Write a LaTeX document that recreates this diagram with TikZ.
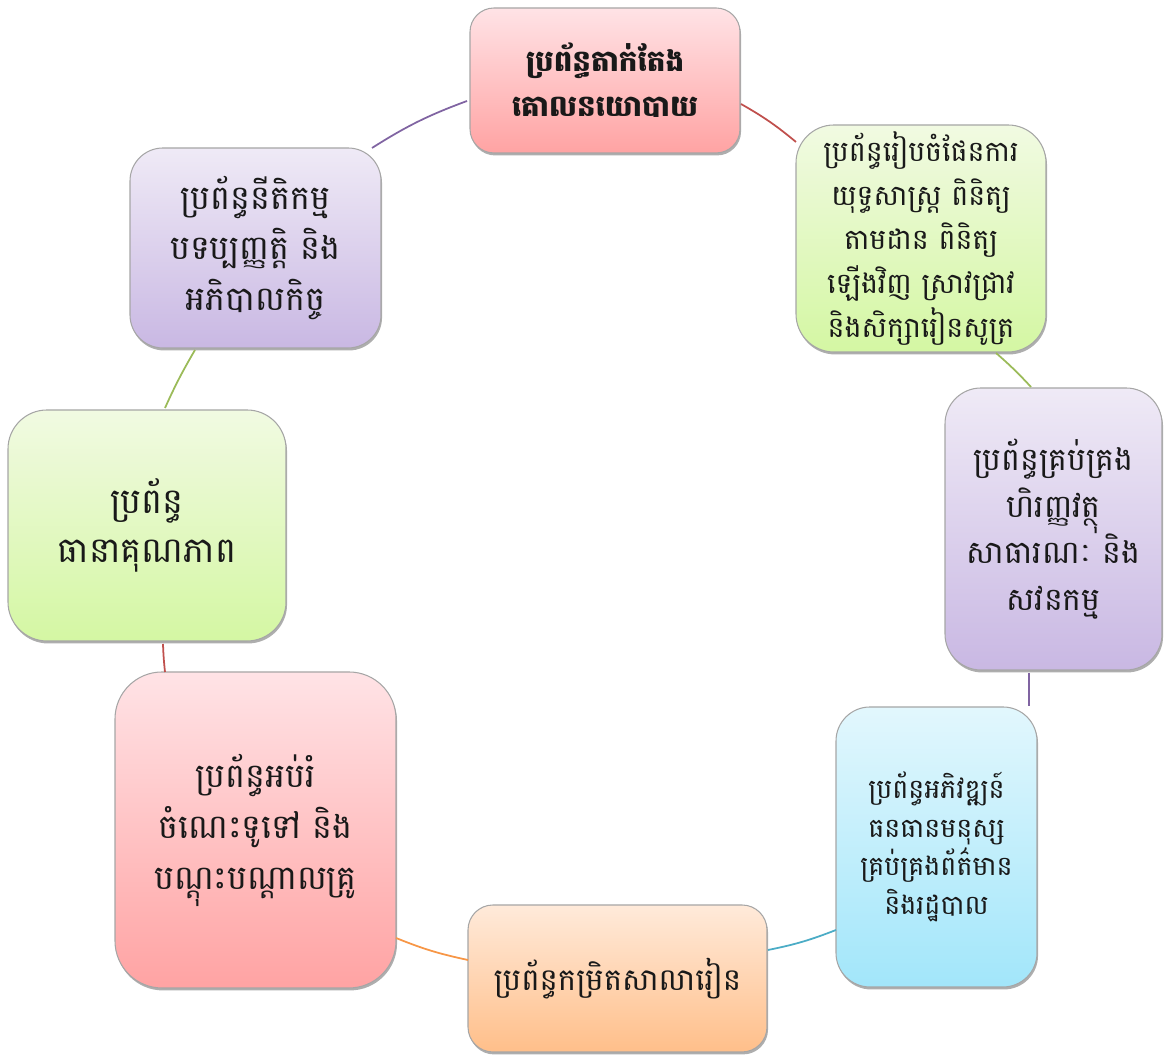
\documentclass[tikz,border=0pt]{standalone}
\usepackage{fontspec}
\newfontfamily\khmer[Script=Khmer]{Battambang}
\usetikzlibrary{shadows}
\definecolor{cRed}{HTML}{C0504D}
\definecolor{cGreen}{HTML}{9BBB59}
\definecolor{cPurple}{HTML}{8064A2}
\definecolor{cBlue}{HTML}{4BACC6}
\definecolor{cOrange}{HTML}{F79646}
\definecolor{redTop}{HTML}{FFE3E6}
\definecolor{redBot}{HTML}{FFA3A3}
\definecolor{greenTop}{HTML}{F1FAE2}
\definecolor{greenBot}{HTML}{D4F7A3}
\definecolor{purpleTop}{HTML}{EFEAF6}
\definecolor{purpleBot}{HTML}{C9B8E3}
\definecolor{blueTop}{HTML}{E2F7FD}
\definecolor{blueBot}{HTML}{A2E6FA}
\definecolor{orangeTop}{HTML}{FFEADA}
\definecolor{orangeBot}{HTML}{FFBF8A}
\tikzset{
  box/.style={draw=black!35, line width=0.6pt, align=center, inner sep=0pt,
    font=\khmer\fontsize{16}{25}\selectfont, text=black!90,
    drop shadow={shadow xshift=0.6pt, shadow yshift=-1.4pt, opacity=0.45, fill=black!70}},
  redbox/.style={box, top color=redTop, bottom color=redBot},
  greenbox/.style={box, top color=greenTop, bottom color=greenBot},
  purplebox/.style={box, top color=purpleTop, bottom color=purpleBot},
  bluebox/.style={box, top color=blueTop, bottom color=blueBot},
  orangebox/.style={box, top color=orangeTop, bottom color=orangeBot},
  conn/.style={line width=1pt}
}
\begin{document}
\begin{tikzpicture}
\useasboundingbox (0,0) rectangle (23.28,21.14);
% boxes
\node[redbox, minimum width=5.4cm, minimum height=2.9cm, rounded corners=0.48cm, font=\khmer\bfseries\fontsize{16.7}{25.5}\selectfont] (n1) at (12.1,19.53)
  {ប្រព័ន្ធតាក់តែង\\គោលនយោបាយ};
\node[greenbox, minimum width=5.0cm, minimum height=4.54cm, rounded corners=0.76cm, font=\khmer\fontsize{16.2}{25}\selectfont] (n2) at (18.42,16.37)
  {ប្រព័ន្ធរៀបចំផែនការ\\យុទ្ធសាស្ត្រ ពិនិត្យ\\តាមដាន ពិនិត្យ\\ឡើងវិញ ស្រាវជ្រាវ\\និងសិក្សារៀនសូត្រ};
\node[purplebox, minimum width=4.34cm, minimum height=5.64cm, rounded corners=0.72cm, font=\khmer\fontsize{18}{26.5}\selectfont] (n3) at (21.07,10.56)
  {ប្រព័ន្ធគ្រប់គ្រង\\ហិរញ្ញវត្ថុ\\សាធារណៈ និង\\សវនកម្ម};
\node[bluebox, minimum width=4.02cm, minimum height=5.6cm, rounded corners=0.68cm, font=\khmer\fontsize{15.3}{22}\selectfont] (n4) at (18.73,4.2)
  {ប្រព័ន្ធអភិវឌ្ឍន៍\\ធនធានមនុស្ស\\គ្រប់គ្រងព័ត៌មាន\\និងរដ្ឋបាល};
\node[orangebox, minimum width=5.98cm, minimum height=2.94cm, rounded corners=0.5cm, font=\khmer\fontsize{17.5}{25}\selectfont] (n5) at (12.35,1.57)
  {ប្រព័ន្ធកម្រិតសាលារៀន};
\node[redbox, minimum width=5.62cm, minimum height=6.32cm, rounded corners=0.94cm, font=\khmer\fontsize{19}{29}\selectfont] (n6) at (5.11,4.54)
  {ប្រព័ន្ធអប់រំ\\ចំណេះទូទៅ និង\\បណ្ដុះបណ្ដាលគ្រូ};
\node[greenbox, minimum width=5.56cm, minimum height=4.62cm, rounded corners=0.78cm, font=\khmer\fontsize{20}{28}\selectfont] (n7) at (2.94,10.63)
  {ប្រព័ន្ធ\\ធានាគុណភាព};
\node[purplebox, minimum width=5.02cm, minimum height=4.0cm, rounded corners=0.66cm, font=\khmer\fontsize{19}{28.5}\selectfont] (n8) at (5.11,16.18)
  {ប្រព័ន្ធនីតិកម្ម\\បទប្បញ្ញត្តិ និង\\អភិបាលកិច្ច};
% connector end points on the box borders
\coordinate (c81) at (7.44,18.18);  \coordinate (c18) at (9.34,19.12);
\coordinate (c12) at (14.82,19.06); \coordinate (c21) at (15.92,18.30);
\coordinate (c23) at (19.92,14.08); \coordinate (c32) at (20.62,13.40);
\coordinate (c34) at (20.58,7.68);  \coordinate (c43) at (20.58,7.02);
\coordinate (c45) at (16.72,2.54);  \coordinate (c54) at (15.36,2.14);
\coordinate (c56) at (9.36,1.94);   \coordinate (c65) at (7.92,2.38);
\coordinate (c67) at (3.30,7.70);   \coordinate (c76) at (3.26,8.26);
\coordinate (c78) at (3.30,12.98);  \coordinate (c87) at (3.90,14.14);
% connectors
\draw[conn, cPurple] (c81) to[bend left=6] (c18);
\draw[conn, cRed]    (c12) to[bend left=5] (c21);
\draw[conn, cGreen]  (c23) to[bend left=3] (c32);
\draw[conn, cPurple] (c34) -- (c43);
\draw[conn, cBlue]   (c45) to[bend left=5] (c54);
\draw[conn, cOrange] (c56) to[bend left=5] (c65);
\draw[conn, cRed]    (c67) to[bend left=2] (c76);
\draw[conn, cGreen]  (c78) to[bend left=3] (c87);
\end{tikzpicture}
\end{document}
